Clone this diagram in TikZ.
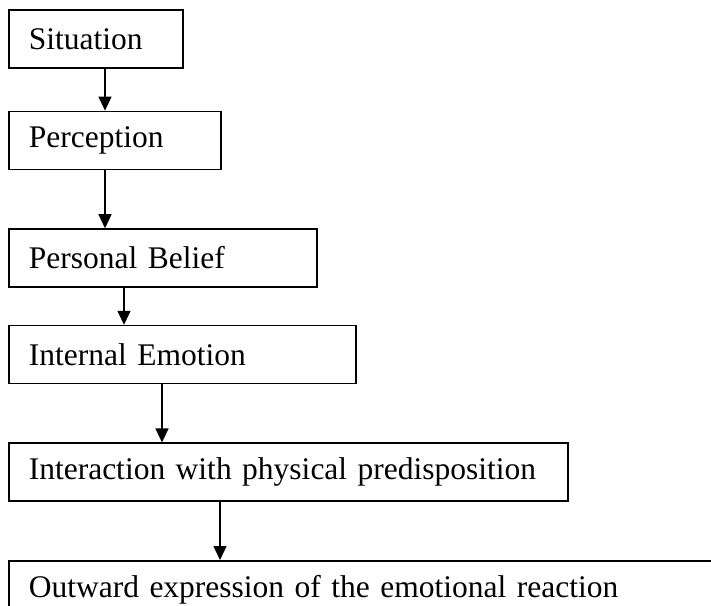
\documentclass[tikz,border=0pt]{standalone}
\usepackage{fontspec}
\setmainfont[WordSpace=0.8]{Liberation Serif}
\usepackage{tikz}
\usetikzlibrary{positioning, arrows.meta}

\begin{document}
\begin{tikzpicture}[
    stage/.style={draw, rectangle, line width=1.6pt, minimum height=58pt, inner xsep=20pt, inner ysep=0pt, align=left, font=\fontsize{31.5}{38}\selectfont},
    flow/.style={-{Triangle[length=14pt, width=13pt]}, line width=1.4pt}
  ]
  \useasboundingbox[fill=white] (0,0) rectangle (711pt,-605pt);
  \clip (0,0) rectangle (711pt,-605pt);
  \node[stage, text width=134pt, anchor=north west] (situation) at (8pt,-9pt) {Situation};
  \node[stage, text width=172pt, below=42pt of situation.south west, anchor=north west] (perception) {Perception};
  \node[stage, text width=268pt, below=58pt of perception.south west, anchor=north west] (belief) {Personal Belief};
  \node[stage, text width=307pt, below=37pt of belief.south west, anchor=north west] (emotion) {Internal Emotion};
  \node[stage, text width=519pt, below=58pt of emotion.south west, anchor=north west] (interaction) {Interaction with physical predisposition};
  \node[stage, text width=720pt, below=58pt of interaction.south west, anchor=north west] (outward) {Outward expression of the emotional reaction};
  \draw[flow] ([xshift=97pt]situation.south west) -- ([xshift=97pt]perception.north west);
  \draw[flow] ([xshift=97pt]perception.south west) -- ([xshift=97pt]belief.north west);
  \draw[flow] ([xshift=116pt]belief.south west) -- ([xshift=116pt]emotion.north west);
  \draw[flow] ([xshift=154pt]emotion.south west) -- ([xshift=154pt]interaction.north west);
  \draw[flow] ([xshift=212pt]interaction.south west) -- ([xshift=212pt]outward.north west);
\end{tikzpicture}
\end{document}
